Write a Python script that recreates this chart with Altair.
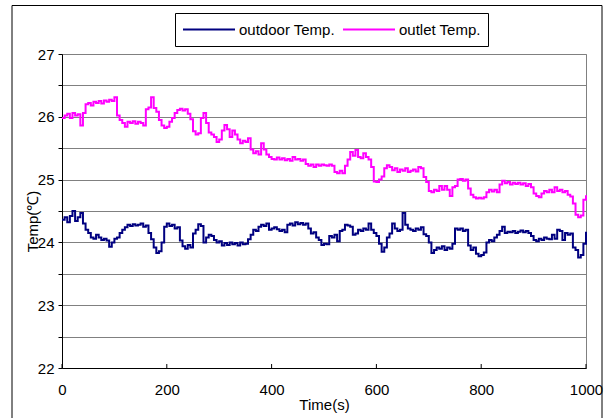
import altair as alt
import pandas as pd

# ---------------- data ----------------
time_s = list(range(0, 1001, 5))

outdoor_temp = [
    24.36, 24.40, 24.32, 24.42, 24.50, 24.34, 24.40, 24.47, 24.30, 24.20,
    24.15, 24.08, 24.06, 24.12, 24.08, 24.04, 24.06, 24.03, 23.93, 24.00,
    24.06, 24.08, 24.15, 24.20, 24.24, 24.28, 24.26, 24.29, 24.27, 24.28,
    24.30, 24.25, 24.27, 24.15, 24.05, 23.92, 23.83, 23.86, 24.00, 24.25,
    24.30, 24.26, 24.28, 24.22, 24.24, 24.03, 23.94, 23.90, 23.96, 23.92,
    24.14, 24.20, 24.29, 24.26, 24.00, 24.08, 24.12, 24.10, 24.04, 24.00,
    24.02, 23.95, 23.99, 23.96, 24.00, 23.97, 23.99, 23.95, 24.00, 23.97,
    23.98, 24.05, 24.12, 24.20, 24.18, 24.25, 24.28, 24.26, 24.30, 24.20,
    24.22, 24.24, 24.21, 24.18, 24.20, 24.16, 24.28, 24.30, 24.27, 24.32,
    24.29, 24.31, 24.28, 24.30, 24.22, 24.14, 24.16, 24.08, 24.04, 23.96,
    23.98, 23.97, 24.10, 24.08, 24.12, 24.02, 24.18, 24.20, 24.28, 24.27,
    24.25, 24.12, 24.14, 24.20, 24.18, 24.22, 24.20, 24.30, 24.20, 24.15,
    24.10, 23.98, 23.85, 23.92, 24.08, 24.14, 24.30, 24.22, 24.18, 24.20,
    24.47, 24.28, 24.22, 24.20, 24.18, 24.22, 24.20, 24.24, 24.13, 24.10,
    24.00, 23.83, 23.88, 23.92, 23.90, 23.94, 23.88, 23.92, 23.90, 23.98,
    24.22, 24.20, 24.22, 24.18, 24.20, 23.95, 23.88, 23.92, 23.82, 23.78,
    23.80, 23.84, 24.00, 24.04, 24.02, 24.08, 24.12, 24.18, 24.25, 24.15,
    24.17, 24.16, 24.18, 24.15, 24.17, 24.19, 24.16, 24.18, 24.15, 24.10,
    24.04, 24.02, 24.06, 24.04, 24.08, 24.06, 24.05, 24.12, 24.06, 24.20,
    24.18, 24.04, 24.15, 24.12, 24.14, 23.92, 23.88, 23.76, 23.80, 23.98,
    24.17,
]

outlet_temp = [
    25.98, 26.02, 26.05, 25.98, 26.06, 26.02, 26.04, 25.86, 26.06, 26.20,
    26.22, 26.18, 26.24, 26.22, 26.25, 26.21, 26.26, 26.24, 26.27, 26.25,
    26.31, 26.02, 25.95, 25.90, 25.84, 25.92, 25.90, 25.93, 25.89, 25.92,
    25.90, 25.86, 26.12, 26.15, 26.31, 26.14, 26.08, 25.95, 25.86, 25.82,
    25.84, 25.92, 25.98, 26.06, 26.11, 26.13, 26.10, 26.12, 26.05, 25.96,
    25.77, 25.72, 25.74, 25.98, 26.06, 25.90, 25.75, 25.72, 25.68, 25.60,
    25.64, 25.78, 25.87, 25.80, 25.68, 25.78, 25.72, 25.64, 25.58, 25.62,
    25.60, 25.66, 25.48, 25.42, 25.45, 25.40, 25.58, 25.48, 25.40, 25.36,
    25.33, 25.32, 25.35, 25.32, 25.34, 25.31, 25.33, 25.30, 25.36, 25.32,
    25.33, 25.30, 25.32, 25.25, 25.22, 25.24, 25.20, 25.24, 25.22, 25.24,
    25.23, 25.22, 25.24, 25.22, 25.12, 25.10, 25.14, 25.10, 25.22, 25.32,
    25.44, 25.38, 25.47, 25.36, 25.34, 25.42, 25.36, 25.32, 25.20, 24.97,
    24.96, 25.00, 25.05, 25.18, 25.23, 25.20, 25.15, 25.18, 25.12, 25.16,
    25.14, 25.18, 25.12, 25.14, 25.16, 25.13, 25.20, 25.18, 25.04, 24.96,
    24.82, 24.80, 24.84, 24.82, 24.90, 24.84, 24.90, 24.84, 24.74, 24.88,
    24.90, 25.00, 25.01, 24.98, 25.00, 24.86, 24.76, 24.72, 24.70, 24.71,
    24.70, 24.72, 24.80, 24.84, 24.81, 24.84, 24.80, 24.92, 24.98, 24.94,
    24.96, 24.92, 24.95, 24.93, 24.95, 24.92, 24.94, 24.90, 24.93, 24.88,
    24.78, 24.74, 24.72, 24.78, 24.82, 24.80, 24.84, 24.80, 24.88, 24.82,
    24.84, 24.80, 24.82, 24.76, 24.73, 24.62, 24.44, 24.40, 24.43, 24.68,
    24.75,
]

series_names = ["outdoor Temp.", "outlet Temp."]
series_colors = ["#000080", "#FF00FF"]
x_ticks = [0, 200, 400, 600, 800, 1000]
y_ticks = [22, 22.5, 23, 23.5, 24, 24.5, 25, 25.5, 26, 26.5, 27]

n = len(time_s)
df = pd.DataFrame({
    "time": time_s + time_s,
    "temp": outdoor_temp + outlet_temp,
    "series": [series_names[0]] * n + [series_names[1]] * n,
})
ticks_df = pd.DataFrame({"time": x_ticks})

FONT = "Liberation Sans"
W, H = 524, 314

lines = alt.Chart(df).mark_line(strokeWidth=2, interpolate="step-after").encode(
    x=alt.X(
        "time:Q",
        scale=alt.Scale(domain=[0, 1000], nice=False),
        axis=alt.Axis(
            values=x_ticks, format="d", title="Time(s)", grid=False,
            tickSize=0, labelPadding=14, labelFlush=False,
            domainColor="black", domainWidth=1,
            labelFont=FONT, labelFontSize=15, labelColor="black",
            titleFont=FONT, titleFontSize=15, titleFontWeight="normal",
            titleColor="black", titlePadding=0,
        ),
    ),
    y=alt.Y(
        "temp:Q",
        scale=alt.Scale(domain=[22, 27], nice=False, zero=False),
        axis=alt.Axis(
            values=y_ticks,
            labelExpr="datum.value % 1 === 0 ? format(datum.value, 'd') : ''",
            title="Temp(\u2103)", grid=True, gridColor="#808080", gridWidth=1,
            tickSize=4, tickColor="black", labelPadding=4, labelFlush=False,
            domainColor="black", domainWidth=1,
            labelFont=FONT, labelFontSize=15, labelColor="black",
            titleFont=FONT, titleFontSize=15, titleFontWeight="normal",
            titleColor="black", titleAngle=270, titleX=-30, titleY=167,
            titleAlign="center", titleBaseline="middle",
        ),
    ),
    color=alt.Color(
        "series:N",
        scale=alt.Scale(domain=series_names, range=series_colors),
        legend=alt.Legend(
            title=None, orient="none", legendX=113, legendY=-41,
            direction="horizontal", strokeColor="black", padding=7,
            symbolType="stroke", symbolSize=2704, symbolStrokeWidth=2,
            clipHeight=19, labelFont=FONT, labelFontSize=15,
            labelColor="black", labelOffset=3, columnPadding=7,
        ),
    ),
)

x_tick_marks = alt.Chart(ticks_df).mark_rule(color="black", strokeWidth=1).encode(
    x="time:Q", y=alt.value(H - 4), y2=alt.value(H)
)

frame = alt.Chart(ticks_df.head(1)).mark_rect(
    fillOpacity=0, stroke="black", strokeWidth=1
).encode(
    x=alt.value(-50), x2=alt.value(540), y=alt.value(-48.5), y2=alt.value(H + 60)
)

chart = alt.layer(lines, x_tick_marks, frame).properties(
    width=W, height=H,
    autosize=alt.AutoSizeParams(type="none"),
    padding={"left": 62, "top": 54, "right": 24, "bottom": 50},
    background="white",
).configure_view(stroke="#808080", strokeWidth=1)

chart.save("out.html", embed_options={"renderer": "svg", "actions": False})
